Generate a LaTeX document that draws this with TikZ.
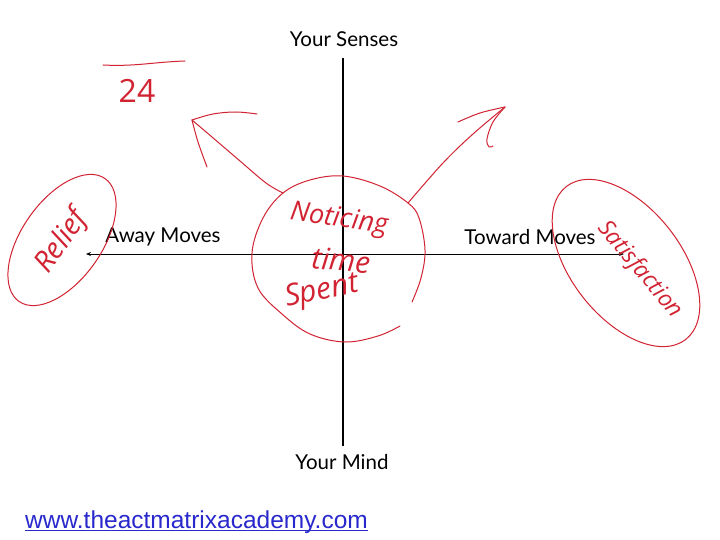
\documentclass[tikz,border=0pt]{standalone}
\usepackage{fontspec}
\setmainfont{Lato}
\newfontfamily\urlfont{Liberation Sans}
\newfontfamily\handfont{Open Sans}
\usetikzlibrary{arrows.meta}
\definecolor{ink}{RGB}{210,35,50}
\definecolor{linkblue}{RGB}{40,40,205}
\begin{document}
\begin{tikzpicture}[x=1pt,y=-1pt,
  axislabel/.style={font=\fontsize{20.5}{23}\selectfont, inner sep=0pt},
  hand/.style={text=ink, font=\handfont\itshape\fontsize{27}{29}\selectfont, inner sep=0pt},
  redline/.style={draw=ink, line width=1pt, line cap=round, line join=round},
  axisline/.style={draw=black, line width=1.8pt},
  moveline/.style={draw=black, line width=1pt, {Stealth[length=5pt,width=4pt]}-{Stealth[length=5pt,width=4pt]}}]
\useasboundingbox (0,0) rectangle (720,540);
\fill[white] (0,0) rectangle (720,540);

% axis labels
\node[axislabel] (senses) at (344,39) {Your Senses};
\node[axislabel] (mind) at (342,462) {Your Mind};
\node[axislabel] (away) at (163,237) {Away Moves};
\node[axislabel] (toward) at (530,237) {Toward Moves};

% axes
\coordinate (vtop) at (343,58);
\coordinate (vbot) at (343,446);
\coordinate (hleft) at (86,254);
\coordinate (hright) at (624,254);
\draw[axisline] (vtop) -- (vbot);
\draw[moveline] (hleft) -- (hright);

% URL
\node[text=linkblue, font=\urlfont\fontsize{24.5}{28}\selectfont, inner sep=0pt, anchor=base west] (url) at (25,528) {www.theactmatrixacademy.com};
\draw[linkblue, line width=0.9pt] ([yshift=-2.2pt]url.base west) -- ([yshift=-2.2pt]url.base east);

% hand-drawn circle
\draw[redline] plot[smooth, tension=0.6] coordinates {(412,302) (421,278) (425,250) (419,218) (408,203) (380,186) (343,176) (310,180) (283,193) (263,218) (252,253) (258,288) (282,314) (310,334) (345,342) (378,336) (400,326)};

% left arrow
\coordinate (ltip) at (192,120);
\draw[redline] plot[smooth, tension=0.6] coordinates {(283,193) (266,183) (240,161) (212,137) (ltip)};
\draw[redline] plot[smooth, tension=0.6] coordinates {(ltip) (213,114) (236,112) (257,114)};
\draw[redline] plot[smooth, tension=0.6] coordinates {(ltip) (198,142) (207,167)};

% right arrow
\coordinate (rtip) at (505,107);
\draw[redline] plot[smooth, tension=0.6] coordinates {(408,203) (443,163) (473,134) (rtip)};
\draw[redline] plot[smooth, tension=0.6] coordinates {(rtip) (480,113) (458,122)};
\draw[redline] plot[smooth, tension=0.6] coordinates {(rtip) (493,122) (487,139) (489,147) (493,146)};

% 24 with overline
\draw[redline] (103,65) to[out=-3,in=182] (185,61);
\node[hand, font=\handfont\fontsize{32}{34}\selectfont] (n24) at (137,91) {24};

% circle text
\node[hand, rotate=-8] (noticing) at (339,220) {Noticing};
\node[hand, rotate=-5, font=\handfont\itshape\fontsize{30}{32}\selectfont] (time) at (341,260) {time};
\node[hand, rotate=12, font=\handfont\itshape\fontsize{30}{32}\selectfont] (spent) at (322,292) {Spent};

% Relief
\draw[redline, rotate around={55:(62,240)}] (62,240) ellipse [x radius=75pt, y radius=40pt];
\node[hand, rotate=55, font=\handfont\itshape\fontsize{29}{31}\selectfont] (relief) at (62,242) {Relief};

% Satisfaction
\draw[redline, rotate around={-52:(626,263)}] (626,263) ellipse [x radius=97pt, y radius=55pt];
\node[hand, rotate=-50, font=\handfont\itshape\fontsize{23}{25}\selectfont] (satis) at (640,270) {Satisfaction};
\end{tikzpicture}
\end{document}
